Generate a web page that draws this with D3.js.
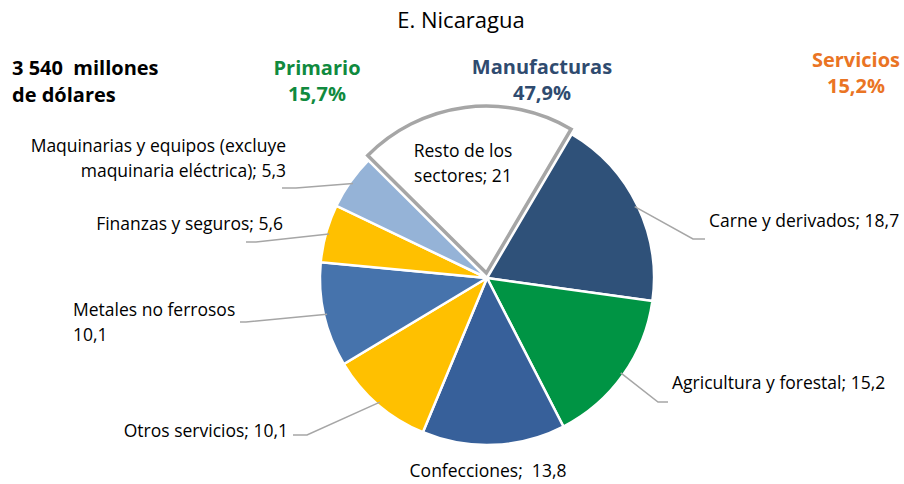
<!DOCTYPE html>
<html>
<head>
<meta charset="utf-8">
<script src="https://cdn.jsdelivr.net/npm/d3@7"></script>
<style>
  body { margin: 0; background: #fff; }
  svg { font-family: "Open Sans", "Noto Sans", sans-serif; }
  svg text { white-space: pre; }
</style>
</head>
<body>
<div id="chart"></div>
<script>
// data
const sectors = ["Carne y derivados", "Agricultura y forestal", "Confecciones", "Otros servicios",
  "Metales no ferrosos", "Finanzas y seguros", "Maquinarias y equipos (excluye maquinaria eléctrica)",
  "Resto de los sectores"];
const shares = [18.7, 15.2, 13.8, 10.1, 10.1, 5.6, 5.3, 21];
const sectorColors = ["#2F5179", "#009444", "#37609A", "#FFC000", "#4673AC", "#FFC000", "#95B3D7", "#FFFFFF"];
const groupNames = ["Primario", "Manufacturas", "Servicios"];
const groupShares = ["15,7%", "47,9%", "15,2%"];
const groupColors = ["#108A3E", "#2F4B6F", "#EA7424"];

const width = 904;
const height = 484;
const cx = 487, cy = 278;
const radius = 167;

const svg = d3.select("#chart")
  .append("svg")
  .attr("width", width)
  .attr("height", height);

// title
svg.append("text")
  .attr("x", 461)
  .attr("y", 28)
  .attr("text-anchor", "middle")
  .style("font-size", "22px")
  .attr("fill", "#000")
  .text("E. Nicaragua");

// total
const total = svg.append("text")
  .attr("x", 12)
  .attr("y", 75)
  .style("font-size", "20px")
  .style("font-weight", "bold")
  .attr("fill", "#000");
total.append("tspan").attr("x", 12).text("3 540  millones");
total.append("tspan").attr("x", 12).attr("dy", 27).text("de dólares");

// group headers
const groupPos = [{ x: 317, y: 75 }, { x: 542, y: 74 }, { x: 856, y: 67 }];
groupNames.forEach((g, i) => {
  const t = svg.append("text")
    .attr("text-anchor", "middle")
    .style("font-size", "20px")
    .style("font-weight", "bold")
    .attr("fill", groupColors[i]);
  t.append("tspan").attr("x", groupPos[i].x).attr("y", groupPos[i].y).text(g);
  t.append("tspan").attr("x", groupPos[i].x).attr("dy", 26).text(groupShares[i]);
});

const pieData = sectors.map((s, i) => ({ name: s, value: shares[i], color: sectorColors[i] }));

const firstAngle = 30.5 * Math.PI / 180;
const pie = d3.pie()
  .sort(null)
  .value(d => d.value)
  .startAngle(firstAngle)
  .endAngle(firstAngle + 2 * Math.PI);

const arc = d3.arc()
  .innerRadius(0)
  .outerRadius(radius);

const arcs = pie(pieData);

const g = svg.append("g")
  .attr("transform", `translate(${cx},${cy})`);

const explode = 5;
g.selectAll("path")
  .data(arcs)
  .join("path")
  .attr("d", arc)
  .attr("transform", d => {
    if (d.data.name !== "Resto de los sectores") return null;
    const a = (d.startAngle + d.endAngle) / 2;
    return `translate(${explode * Math.sin(a)},${-explode * Math.cos(a)})`;
  })
  .attr("fill", d => d.data.color)
  .attr("stroke", d => d.data.name === "Resto de los sectores" ? "#A6A6A6" : "#fff")
  .attr("stroke-width", d => d.data.name === "Resto de los sectores" ? 3.5 : 2.5)
  .attr("stroke-linejoin", "miter");

// bring exploded slice on top
g.selectAll("path").filter(d => d.data.name === "Resto de los sectores").raise();

// label layout: text anchor point, lines, and leader elbow/end
const labelLayout = {
  "Carne y derivados": { x: 709, y: 227, anchor: "start", lines: ["Carne y derivados; 18,7"], elbow: [693, 239], end: [705, 239] },
  "Agricultura y forestal": { x: 672, y: 389, anchor: "start", lines: ["Agricultura y forestal; 15,2"], elbow: [658, 402], end: [668, 402] },
  "Confecciones": { x: 488, y: 477, anchor: "middle", lines: ["Confecciones;  13,8"] },
  "Otros servicios": { x: 288, y: 437, anchor: "end", lines: ["Otros servicios; 10,1"], elbow: [307, 435], end: [293, 435] },
  "Metales no ferrosos": { x: 73, y: 316, anchor: "start", lines: ["Metales no ferrosos", "10,1"], elbow: [246, 322], end: [240, 322] },
  "Finanzas y seguros": { x: 283, y: 230, anchor: "end", lines: ["Finanzas y seguros; 5,6"], elbow: [256, 242], end: [246, 242] },
  "Maquinarias y equipos (excluye maquinaria eléctrica)": { x: 286, y: 152, anchor: "end", lines: ["Maquinarias y equipos (excluye", "maquinaria eléctrica); 5,3"], elbow: [296, 188], end: [282, 188] },
  "Resto de los sectores": { x: 463, y: 157, anchor: "middle", lines: ["Resto de los", "sectores; 21"] }
};

// leader lines
arcs.forEach(d => {
  const L = labelLayout[d.data.name];
  if (!L.elbow) return;
  const a = (d.startAngle + d.endAngle) / 2;
  const sx = cx + (radius - 3) * Math.sin(a);
  const sy = cy - (radius - 3) * Math.cos(a);
  svg.append("path")
    .attr("d", d3.line()([[sx, sy], L.elbow, L.end]))
    .attr("fill", "none")
    .attr("stroke", "#A6A6A6")
    .attr("stroke-width", 1.5);
});

// labels
arcs.forEach(d => {
  const L = labelLayout[d.data.name];
  const t = svg.append("text")
    .attr("text-anchor", L.anchor)
    .style("font-size", "17.5px")
    .attr("fill", "#000");
  L.lines.forEach((line, i) => {
    t.append("tspan")
      .attr("x", L.x)
      .attr("y", L.y + i * 25)
      .text(line);
  });
});
</script>
</body>
</html>
